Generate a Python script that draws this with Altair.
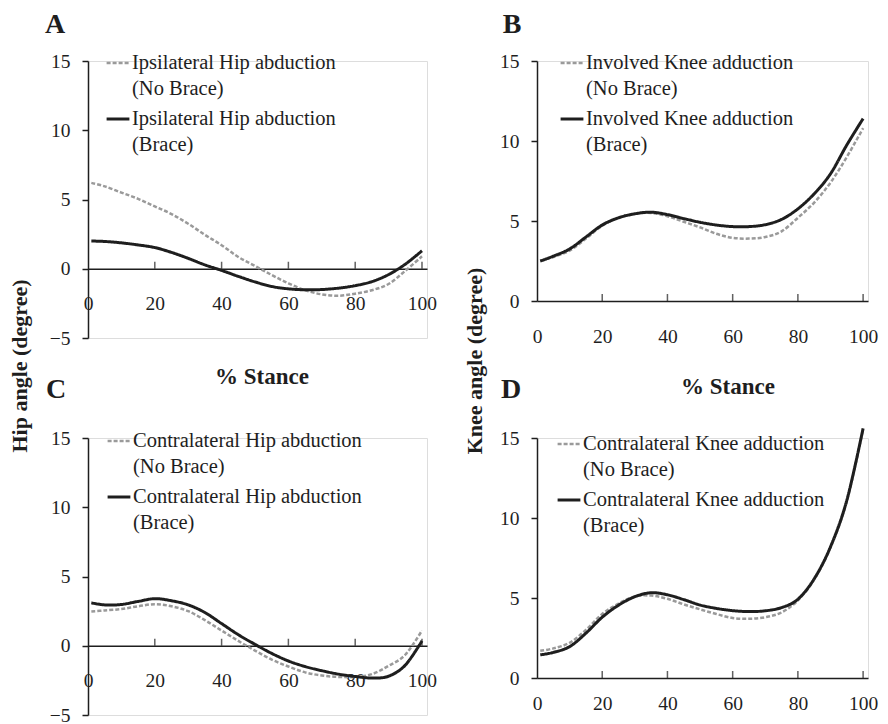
import altair as alt
import pandas as pd

FONT = "Liberation Serif"
INK = "#1e1e1e"
GRAY = "#9a9a9a"

# % stance sample points
stance = [1, 5, 10, 15, 20, 25, 30, 35, 40, 45, 50, 55, 60, 65, 70, 75, 80, 85, 90, 95, 100]

# Panel A: ipsilateral hip abduction
a_nobrace = [6.2, 5.95, 5.5, 5.05, 4.5, 3.95, 3.25, 2.45, 1.7, 0.85, 0.2, -0.45, -1.05, -1.55, -1.85, -1.95, -1.8, -1.55, -1.1, -0.15, 0.9]
a_brace = [2.0, 1.97, 1.87, 1.72, 1.53, 1.18, 0.75, 0.28, -0.12, -0.55, -0.95, -1.28, -1.45, -1.52, -1.5, -1.4, -1.22, -0.93, -0.42, 0.33, 1.3]

# Panel B: involved knee adduction
b_nobrace = [2.5, 2.75, 3.15, 3.9, 4.7, 5.2, 5.45, 5.5, 5.3, 4.95, 4.6, 4.2, 3.95, 3.9, 4.0, 4.35, 5.2, 6.15, 7.4, 9.0, 10.8]
b_brace = [2.5, 2.8, 3.25, 4.0, 4.75, 5.2, 5.45, 5.55, 5.4, 5.15, 4.92, 4.75, 4.65, 4.65, 4.77, 5.1, 5.76, 6.7, 7.95, 9.75, 11.4]

# Panel C: contralateral hip abduction
c_nobrace = [2.48, 2.55, 2.65, 2.85, 3.0, 2.85, 2.5, 1.85, 1.1, 0.35, -0.35, -1.0, -1.5, -1.92, -2.15, -2.25, -2.25, -2.05, -1.45, -0.65, 1.1]
c_brace = [3.1, 2.95, 2.98, 3.2, 3.4, 3.25, 2.95, 2.4, 1.6, 0.8, 0.1, -0.55, -1.1, -1.5, -1.8, -2.05, -2.22, -2.33, -2.2, -1.4, 0.35]

# Panel D: contralateral knee adduction
d_nobrace = [1.7, 1.85, 2.2, 3.0, 4.0, 4.65, 5.1, 5.15, 4.95, 4.6, 4.29, 4.0, 3.75, 3.7, 3.8, 4.1, 4.85, 6.15, 8.15, 11.05, 15.55]
d_brace = [1.45, 1.6, 1.96, 2.8, 3.8, 4.55, 5.08, 5.33, 5.2, 4.9, 4.56, 4.35, 4.21, 4.15, 4.2, 4.4, 4.92, 6.2, 8.2, 11.1, 15.6]

x_labels = [0, 20, 40, 60, 80, 100]
x_tickmarks = [20, 40, 60, 80, 100]
hip_ticks = [-5, 0, 5, 10, 15]
knee_ticks = [0, 5, 10, 15]

a_labels = ["Ipsilateral Hip abduction|(No Brace)", "Ipsilateral Hip abduction|(Brace)"]
b_labels = ["Involved Knee adduction|(No Brace)", "Involved Knee adduction|(Brace)"]
c_labels = ["Contralateral Hip abduction|(No Brace)", "Contralateral Hip abduction|(Brace)"]
d_labels = ["Contralateral Knee adduction|(No Brace)", "Contralateral Knee adduction|(Brace)"]

W_LEFT = 339
W_RIGHT = 331


def text_layer(txt, x, y, size, angle=0, baseline="middle"):
    return alt.Chart(pd.DataFrame({"t": [txt]})).mark_text(
        font=FONT, fontSize=size, fontWeight="bold", color=INK,
        align="center", baseline=baseline, angle=angle
    ).encode(x=alt.value(x), y=alt.value(y), text="t:N")


def panel(nob, br, labels, ydom, yticks, W, H, legend_xy, letter, letter_xy,
          stance_xy=None, ytitle=None, ytitle_xy=None, xpad=26):
    n = len(stance)
    df = pd.DataFrame({
        "x": stance + stance,
        "y": nob + br,
        "s": [labels[0]] * n + [labels[1]] * n,
    })
    offset = -(0 - ydom[0]) / (ydom[1] - ydom[0]) * H
    leg = alt.Legend(
        title=None, orient="none", legendX=legend_xy[0], legendY=legend_xy[1],
        labelExpr="split(datum.label, '|')", labelFont=FONT, labelFontSize=20.5,
        labelColor=INK, labelBaseline="middle", labelOffset=1, symbolType="stroke",
        symbolSize=520, rowPadding=6, padding=0, labelLimit=400,
    )
    xs = alt.Scale(domain=[0, 101.5], nice=False, zero=False)
    ys = alt.Scale(domain=ydom, nice=False, zero=False)
    lines = alt.Chart(df).mark_line(interpolate="cardinal").encode(
        x=alt.X("x:Q", scale=xs, axis=alt.Axis(
            values=x_labels, title=None, grid=False, ticks=False,
            domainColor=INK, domainWidth=1.5, labelFont=FONT, labelFontSize=19.5,
            labelColor=INK, labelPadding=xpad, offset=offset, labelFlush=False)),
        y=alt.Y("y:Q", scale=ys, axis=alt.Axis(
            values=yticks, title=None, grid=False, tickSize=6, tickWidth=1.5,
            tickColor=INK, domainColor=INK, domainWidth=1.5, labelFont=FONT,
            labelFontSize=19.5, labelColor=INK, labelPadding=12)),
        color=alt.Color("s:N", scale=alt.Scale(domain=labels, range=[GRAY, INK]), legend=leg),
        strokeDash=alt.StrokeDash("s:N", scale=alt.Scale(domain=labels, range=[[4, 2], [1, 0]]), legend=leg),
        strokeWidth=alt.StrokeWidth("s:N", scale=alt.Scale(domain=labels, range=[2.5, 3]), legend=leg),
    )
    tdf = pd.DataFrame({"x": x_tickmarks, "y": [0] * len(x_tickmarks)})
    ticks = alt.Chart(tdf).mark_tick(
        orient="vertical", size=7, thickness=1.5, color=INK, yOffset=-3.5
    ).encode(x="x:Q", y="y:Q")
    layers = [lines, ticks, text_layer(letter, letter_xy[0], letter_xy[1], 28, baseline="alphabetic")]
    if stance_xy is not None:
        layers.append(text_layer("% Stance", stance_xy[0], stance_xy[1], 23))
    if ytitle is not None:
        layers.append(text_layer(ytitle, ytitle_xy[0], ytitle_xy[1], 22, angle=270))
    return alt.layer(*layers).properties(width=W, height=H)


pA = panel(a_nobrace, a_brace, a_labels, [-5, 15], hip_ticks, W_LEFT, 277, (17, -11), "A", (-33, -28),
           stance_xy=(174, 316), ytitle="Hip angle (degree)", ytitle_xy=(-68.5, 305))
pB = panel(b_nobrace, b_brace, b_labels, [0, 15], knee_ticks, W_RIGHT, 240, (22, -11), "B", (-25, -28),
           stance_xy=(191, 326), ytitle="Knee angle (degree)", ytitle_xy=(-62.5, 300))
pC = panel(c_nobrace, c_brace, c_labels, [-5, 15], hip_ticks, W_LEFT, 277, (18, -10), "C", (-32, -40))
pD = panel(d_nobrace, d_brace, d_labels, [0, 15], knee_ticks, W_RIGHT, 240, (19, -7), "D", (-26, -40),
           xpad=16)

chart = alt.concat(
    pA, pB, pC, pD, columns=2, spacing={"row": 100, "column": 110}, bounds="flush"
).resolve_scale(
    x="independent", y="independent", color="independent",
    strokeDash="independent", strokeWidth="independent"
).properties(
    padding={"left": 0, "top": 2, "right": 0, "bottom": 2}
).configure_view(stroke=None).configure(
    font=FONT, style={"guide-label": {"lineHeight": 26}}
)

chart.save("out.html", embed_options={"renderer": "svg", "actions": False})
